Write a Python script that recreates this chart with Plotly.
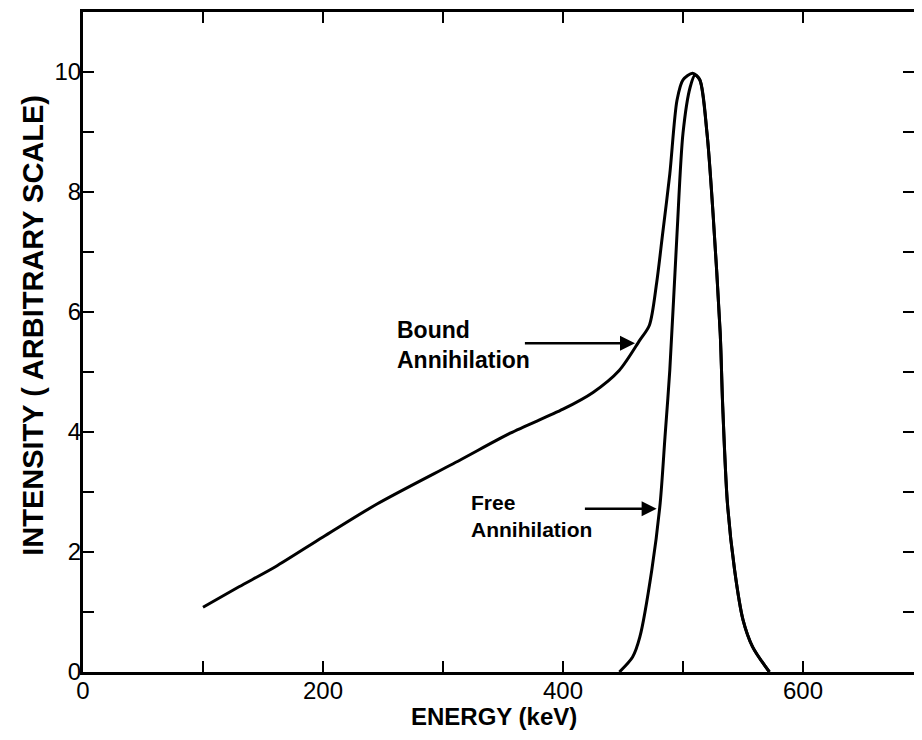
import plotly.graph_objects as go

bound_energy = [100, 130, 160, 200, 245, 314, 356, 400, 425, 447, 464, 472, 478, 483, 489, 495, 500, 508,
                514, 520, 525, 531, 533, 537, 543, 550, 558, 572]
bound_intensity = [1.08, 1.42, 1.75, 2.25, 2.8, 3.53, 3.98, 4.38, 4.66, 5.03, 5.53, 5.78, 6.48, 7.3, 8.3, 9.53, 9.87, 9.98,
                   9.87, 8.98, 7.65, 5.65, 4.48, 2.82, 1.7, 0.87, 0.42, 0.0]

free_energy = [447, 458, 464, 474, 481, 485, 489, 495, 500, 506, 510, 514, 520, 525, 531, 533, 537, 543, 550, 558, 572]
free_intensity = [0.0, 0.25, 0.58, 1.7, 2.82, 3.92, 5.03, 7.3, 8.98, 9.75, 9.95, 9.87, 8.98, 7.65, 5.65, 4.48,
                  2.82, 1.7, 0.87, 0.42, 0.0]

x_tick_vals = [0, 100, 200, 300, 400, 500, 600]
x_tick_text = ["0", "", "200", "", "400", "", "600"]
y_tick_vals = [0, 1, 2, 3, 4, 5, 6, 7, 8, 9, 10, 11]
y_tick_text = ["0", "", "2", "", "4", "", "6", "", "8", "", "10", ""]

FONT = "Liberation Sans"

fig = go.Figure()
fig.add_trace(go.Scatter(x=bound_energy, y=bound_intensity, mode="lines",
                         line=dict(color="black", width=3, shape="spline", smoothing=0.8),
                         showlegend=False, name="Bound Annihilation"))
fig.add_trace(go.Scatter(x=free_energy, y=free_intensity, mode="lines",
                         line=dict(color="black", width=3, shape="spline", smoothing=0.8),
                         showlegend=False, name="Free Annihilation"))

# arrows
fig.add_annotation(x=460, y=5.48, ax=367, ay=5.48, xref="x", yref="y", axref="x", ayref="y",
                   showarrow=True, arrowhead=2, arrowsize=1.2, arrowwidth=2.5, arrowcolor="black", text="")
fig.add_annotation(x=478, y=2.72, ax=417, ay=2.72, xref="x", yref="y", axref="x", ayref="y",
                   showarrow=True, arrowhead=2, arrowsize=1.2, arrowwidth=2.5, arrowcolor="black", text="")
# labels
fig.add_annotation(x=260, y=5.45, xref="x", yref="y", xanchor="left", yanchor="middle", showarrow=False,
                   align="left", text="<b>Bound</b><br><b>Annihilation</b>",
                   font=dict(family=FONT, size=23, color="black"))
fig.add_annotation(x=322, y=2.6, xref="x", yref="y", xanchor="left", yanchor="middle", showarrow=False,
                   align="left", text="<b>Free</b><br><b>Annihilation</b>",
                   font=dict(family=FONT, size=21, color="black"))
# axis titles
fig.add_annotation(x=-0.0602, y=0.526, xref="paper", yref="paper", xanchor="center", yanchor="middle",
                   showarrow=False, textangle=-90, text="<b>INTENSITY ( ARBITRARY SCALE)</b>",
                   font=dict(family=FONT, size=29, color="black"))
fig.add_annotation(x=0.4946, y=-0.067, xref="paper", yref="paper", xanchor="center", yanchor="middle",
                   showarrow=False, text="<b>ENERGY (keV)</b>",
                   font=dict(family=FONT, size=24, color="black"))

fig.update_layout(
    width=906, height=724,
    margin=dict(l=75, r=0, t=4, b=60),
    paper_bgcolor="white", plot_bgcolor="white",
    font=dict(family=FONT, color="black"),
    xaxis=dict(range=[0, 692.5], tickvals=x_tick_vals, ticktext=x_tick_text, ticks="inside",
               ticklen=11, tickwidth=2, tickcolor="black", showline=True, linewidth=3, linecolor="black",
               mirror="ticks", showgrid=False, zeroline=False, automargin=False,
               tickfont=dict(size=24, family=FONT), ticklabelstandoff=-5),
    yaxis=dict(range=[0, 11], tickvals=y_tick_vals, ticktext=y_tick_text, ticks="inside",
               ticklen=11, tickwidth=2, tickcolor="black", showline=True, linewidth=3, linecolor="black",
               mirror="ticks", showgrid=False, zeroline=False, automargin=False,
               tickfont=dict(size=24, family=FONT), ticklabelstandoff=-6),
)

fig.write_html("out.html")
